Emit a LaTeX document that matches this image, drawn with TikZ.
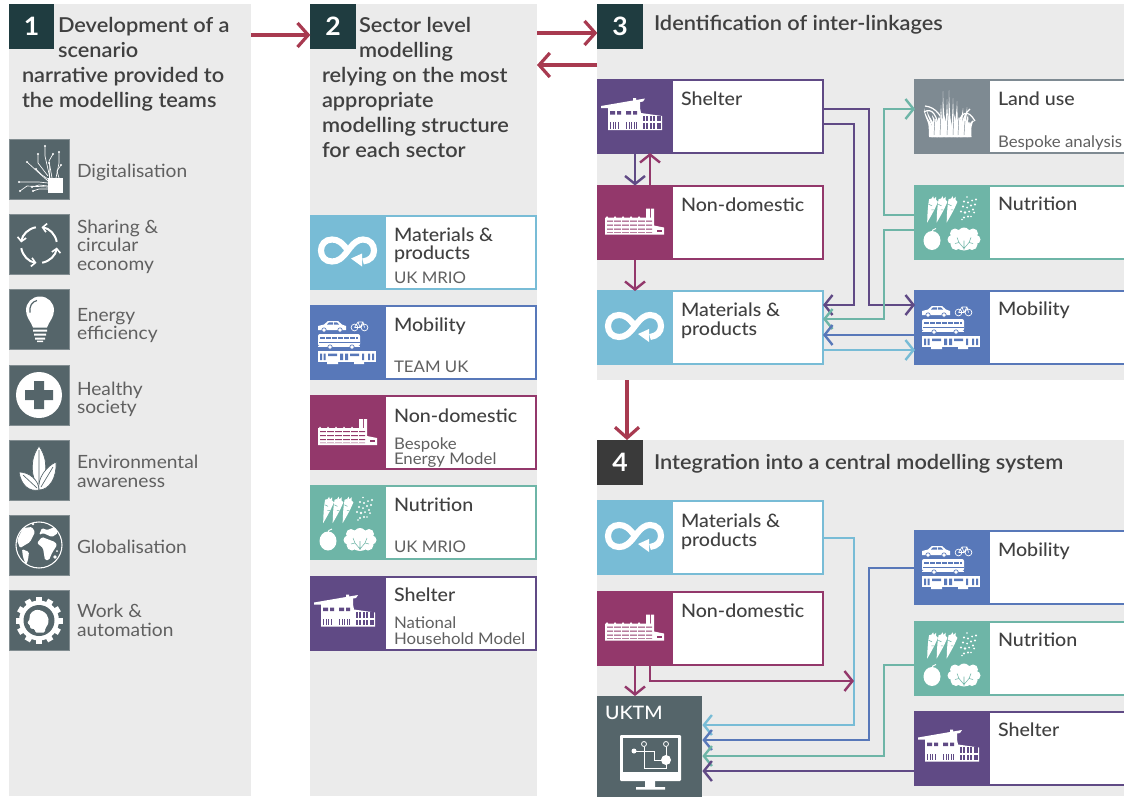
\documentclass[tikz,border=0pt]{standalone}
\usepackage{fontspec}
\setmainfont[FakeStretch=1.05]{Lato}
\newfontfamily\medf[FakeStretch=1.06]{Lato Medium}
\newfontfamily\semf[FakeStretch=1.06]{Lato Semibold}
\usetikzlibrary{arrows.meta}
\definecolor{panel}{HTML}{EBEBEB}
\definecolor{purp}{HTML}{604A85}
\definecolor{mag}{HTML}{93386B}
\definecolor{lblue}{HTML}{78BCD6}
\definecolor{mblue}{HTML}{5878B9}
\definecolor{teal2}{HTML}{6EB5A7}
\definecolor{lgray}{HTML}{7E8A92}
\definecolor{slate}{HTML}{55656A}
\definecolor{deep}{HTML}{1F3C40}
\definecolor{four}{HTML}{3A3A3A}
\definecolor{redc}{HTML}{A83A50}
\definecolor{txt}{HTML}{404040}
\definecolor{txtl}{HTML}{606060}
\tikzset{
  every node/.style={inner sep=0pt,outer sep=0pt},
  lab/.style={anchor=base west},
  hd/.style={lab,text=txt,font=\semf\fontsize{15.4}{16}\selectfont},
  cardt/.style={lab,text=txt,font=\medf\fontsize{13.9}{14}\selectfont},
  cardsub/.style={lab,text=txtl,font=\fontsize{12}{13}\selectfont},
  itemt/.style={lab,text=txtl,font=\fontsize{13.7}{14}\selectfont},
  num/.style={text=white,font=\bfseries\fontsize{19}{20}\selectfont},
  conn/.style={line width=1.8pt,-{Straight Barb[length=6pt,width=15pt,line width=1.8pt]}},
  bigarrow/.style={redc,line width=2.4pt,-{Straight Barb[length=8pt,width=18pt,line width=2.4pt]}},
  thin1/.style={white,line width=.6pt}
}
\newcount\lblc
\newcommand\lbl[4]{\global\advance\lblc by 1 \node[#1,name=t\the\lblc] at (#2,#3) {#4};}
\newcommand\icShelter{%
  \fill[white] (4,27)--(36,21.5)--(36,19)--(39,19)--(39,21)--(48,19.5)--(46,22.5)--(43,23)--(43,29)--(44,34)--(65,37)--(65,51)--(11,51)--(11,29)--(4,29) -- cycle;
  \fill[ic] (13,32) rectangle (18,35.5) (20,32) rectangle (24,35.5) (29,32) rectangle (34,35.5) (36,32) rectangle (40,35.5);
  \foreach \x in {13,15.5,18,20.5,29,31.5,34,36.5,39} \fill[ic] (\x,43) rectangle +(1.4,6.5);
  \foreach \x in {45.5,49,52.5,56,59.5,62} {\fill[ic] (\x,36.5) rectangle +(2.2,5.5); \fill[ic] (\x,44) rectangle +(2.2,5.5);}
}
\newcommand\icFactory{%
  \fill[white] (8,33)--(9,33)--(10,31.5)--(11,33)--(17,33)--(18,31.5)--(19,33)--(25,33)--(26,31.5)--(27,33)--(33,33)--(34,31.5)--(35,33)--(41,33)--(42,31.5)--(43,33)--(49,33)--(49,24)--(53,24)--(53,33)--(54,33)--(54,24)--(57,24)--(57,41)--(67,43)--(67,50)--(8,50)--cycle;
  \fill[ic] (10,36) rectangle (55,37) (10,40) rectangle (55,41) (10,44) rectangle (55,45) (10,47.5) rectangle (55,48);
  \fill[ic] (60,45) rectangle (65,47);
  \foreach \x in {16,24,32,40,48} \fill[white] (\x,35) rectangle +(.8,13);
}
\newcommand\icInf{%
  \draw[white,line width=4.6pt] (38,36) .. controls (32,28) and (28,25) .. (22,25) .. controls (15,25) and (11,30) .. (11,36) .. controls (11,42) and (15,47) .. (22,47) .. controls (28,47) and (32,44) .. (38,36) .. controls (44,28) and (48,25) .. (53,25) .. controls (60,25) and (64,30) .. (64,36) .. controls (64,42) and (60,46) .. (53,47);
  \fill[white] (41,44)--(52,39)--(52,52)--cycle;
  \fill[ic] (41,47) -- (43,52) -- (43,54) -- (41,54) -- cycle;
}
\newcommand\icMob{%
  \fill[white] (8,25)--(8,21)--(14,19.5)--(18,16)--(28,16)--(32,19.5)--(36,21)--(36,25)--cycle;
  \fill[ic] (19,17.3)--(23,17.3)--(23,19.5)--(17,19.5)--cycle (24,17.3)--(27,17.3)--(29,19.5)--(24,19.5)--cycle;
  \fill[white,draw=ic,line width=.5pt] (14,25) circle (2.2) (30,25) circle (2.2);
  \draw[thin1,line width=.5pt] (44.5,22.5) circle (3.4) (54.5,22.5) circle (3.4) (44.5,22.5)--(48,17)--(53,17)--(54.5,22.5) (48,17)--(50,22.5)--(53,17) (44.5,22.5)--(50,22.5);
  \fill[white,rounded corners=1.5pt] (8,29) rectangle (50,41);
  \fill[white] (8,41) rectangle (50,42);
  \fill[ic] (10,31.5) rectangle (48,33.5);
  \foreach \x in {15,21,27,33,39,45} \fill[white] (\x,31) rectangle +(.6,3);
  \fill[ic] (9,37) rectangle (50,37.4);
  \fill[white,draw=ic,line width=.5pt] (20,42) circle (2.2) (42,42) circle (2.2);
  \fill[white] (8,46) rectangle (66,57);
  \fill[ic] (10,48.5) rectangle (12,55) (13.5,48.5) rectangle (15.5,55) (18,48.5) rectangle (27,51) (30,48.5) rectangle (33,55) (35,48.5) rectangle (38,55) (40,48.5) rectangle (49,51) (52,48.5) rectangle (54,55) (58,48.5) rectangle (60,55) (62,48.5) rectangle (64,55);
  \fill[white] (17,57) rectangle (28,59) (44,57) rectangle (54,59);
}
\newcommand\icNut{%
  \foreach \cx in {19.5,29,39} {
    \begin{scope}[shift={(\cx,16)},rotate=-16]
      \fill[white] (-4.6,0) .. controls (-3,-2) and (3,-2) .. (4.6,0) .. controls (3.5,10) and (1.2,18) .. (0,23) .. controls (-1.2,18) and (-3.5,10) .. (-4.6,0) -- cycle;
      \fill[white] (-2.5,-1) -- (-1.5,-4) -- (0,-1.5) -- (1.5,-4.5) -- (2.5,-1) -- cycle;
      \draw[ic,line width=.4pt] (-3.5,5)--(0,5.5) (3,9)--(.5,9.5);
    \end{scope}
  }
  \foreach \px/\py/\pr in {53/12.5/.8,50/17/1.1,54/18/1.2,58/16/1,62/15/1.1,49/22/1.2,53/23/1,57/21/1.2,61/20/1.1,47/27/1.2,51/28/1.3,55/27/1,59/25/1.2,60/28/1,50/33/1.2,54/32/1.1,48/35/.9,57/32/.9}
    \fill[white] (\px,\py) circle (\pr);
  \fill[white] (18,56) ellipse (8.5 and 9.5);
  \draw[white,line width=.7pt] (18,48)..controls (18,46) and (19,44.5)..(22,44);
  \fill[white] (38,55) circle (4.5) (41,49) circle (5) (50,49) circle (6) (59,49) circle (5) (62,55) circle (4.5) (42,60) circle (5.5) (50,61) circle (5) (58,60) circle (5.5) (50,55) circle (11);
  \draw[ic,line width=.4pt] (50,65)--(50,56) (50,64)--(45,58)--(43,53) (50,64)--(55,58)--(57,53) (45,58)--(41,59) (55,58)--(59,59);
}
\newcommand\icLand{%
  \foreach \bx/\tx/\ty/\w in {17/14/44/2,19/10/29/1.5,22/13/31/1.8,25/18/36/2.2,27/27/26/2,30/29/12/1.5,33/33/20/1.8,36/35/11/1.4,39/39/19/1.7,42/43/22/2,45/49/29/1.8,48/53/28/1.8,52/54/36/1.8,55/60/43/1.5,20/21/40/3.5,25/25/38/3.5,30/30/36/3.5,35/35/34/3.5,40/40/35/3.5,45/45/38/3.5,50/50/40/3.5,55/55/46/2.5}
    \fill[white] (\bx-\w,58) .. controls (\bx-\w,46) and (\tx-.7,38) .. (\tx,\ty) .. controls (\tx+.7,38) and (\bx+\w,46) .. (\bx+\w,58) -- cycle;
  \draw[white,line width=.9pt] (10,33)..controls (18,28) and (24,36)..(25,55);
  \draw[white,line width=.9pt] (11,27)..controls (22,28) and (30,38)..(32,55);
  \draw[white,line width=.9pt] (61,42)..controls (54,30) and (46,30)..(42,55);
  \draw[white,line width=.9pt] (56,30)..controls (52,33) and (48,40)..(47,55);
  \foreach \x/\t in {20/38,26/34,33/36,39/30,44/36,50/42} \draw[ic,line width=.35pt] (\x,56)--(\x+1,\t);
}
\newcommand\icDigi{%
  \fill[white] (39,39) rectangle (54,54);
  \foreach \dx/\dy/\ex/\ey/\fx/\fy in {36/7/36/17/41/39,29/15/29/24/39/37,44/15/40/22/43/39,50/13/50/24/47/39,40/24/40/30/40/39,52/26/48/32/50/39,18/23/30/34/39/42,27/30/33/36/39/40,10/43/30/43/39/44,23/48/30/46/39/47,24/52/30/50/39/50,11/52/18/47/39/48} {
    \draw[thin1,line width=.5pt] (\dx,\dy)--(\ex,\ey)--(\fx,\fy);
    \fill[white] (\dx,\dy) circle (1.2);
  }
}
\newcommand\icCirc{%
  \foreach \a in {10,100,190,280}
    \draw[white,line width=1.5pt,-{Straight Barb[length=3pt,width=6.5pt,line width=1.2pt]}] (30,31) ++(\a:13.5pt) arc[start angle=\a,end angle=\a+72,radius=13.5pt];
}
\newcommand\icBulb{%
  \fill[white] (24,38) .. controls (22,32) and (17,28) .. (17,21) .. controls (17,13) and (23,7) .. (31,7) .. controls (39,7) and (45,13) .. (45,21) .. controls (45,28) and (40,32) .. (38,38) -- cycle;
  \fill[white] (24,40) rectangle (38,42) (25,44) rectangle (37,46) (26,48) rectangle (36,50) (28,51) rectangle (34,52.5);
  \draw[ic,line width=.9pt] (21,23) .. controls (20,17) and (23,12) .. (28,11);
}
\newcommand\icPlus{%
  \fill[white] (30,30) circle (23);
  \fill[ic] (25,16) rectangle (35,44) (16,25) rectangle (44,35);
}
\newcommand\icLeaf{%
  \fill[white,draw=ic,line width=.5pt] (30,6) .. controls (40,20) and (38,38) .. (30,48) .. controls (22,38) and (20,20) .. (30,6);
  \fill[white,draw=ic,line width=.5pt] (10,32) .. controls (12,45) and (20,52) .. (30,50) .. controls (30,40) and (20,32) .. (10,32);
  \fill[white,draw=ic,line width=.5pt] (47,22) .. controls (48,38) and (40,50) .. (30,50) .. controls (28,38) and (38,26) .. (47,22);
  \draw[ic,line width=.5pt] (30,10)--(30,44) (14,35)--(28,48) (44,27)--(32,47);
}
\newcommand\icGlobe{%
  \begin{scope}
  \clip (30,30) circle (23);
  \fill[white,rounded corners=1pt] (28,28)--(33,22)--(46,27)--(48,30)--(43,38)--(40,45)--(36,45)--(34,33)--cycle;
  \fill[white,rounded corners=1pt] (30,20)--(33,13)--(38,15)--(46,12)--(49,18)--(43,22)--(34,18)--cycle;
  \fill[white,rounded corners=1pt] (8,25)--(14,13)--(23,12)--(26,17)--(21,27)--(16,30)--(11,33)--cycle;
  \fill[white,rounded corners=1pt] (13,34)--(20,37)--(19,45)--(17,50)--(14,42)--cycle;
  \fill[white] (46,42) circle (1.8) (24,9) circle (1.3) (48,36) circle (1);
  \end{scope}
  \draw[white,line width=.8pt] (30,30) circle (23);
}
\newcommand\icGear{%
  \foreach \a in {0,30,...,330}
    \fill[white,shift={(30,30)},rotate=\a] (-3,-23.5) rectangle (3,-15);
  \fill[white] (30,30) circle (20);
  \fill[ic] (30,30) circle (15.5);
  \fill[white,rounded corners=1pt] (36,42)--(36,38) .. controls (41,33) and (41,24) .. (32,20) .. controls (24,18) and (20,24) .. (21,28)--(18,33)--(21,34)--(21,38)--(26,38.5)--(26,42)--cycle;
}
\newcommand\card[6]{%
  \colorlet{ic}{#5}%
  \node[draw=#5,line width=1.5pt,fill=white,anchor=north west,minimum width=#4*0.75pt,minimum height=54.75pt] (#1) at (#2,#3+1) {};
  \fill[#5] (#2-1,#3) rectangle ++(76,75);
  \begin{scope}[shift={(#2-1,#3)}] #6 \end{scope}
}
\newcommand\sideicon[3]{%
  \colorlet{ic}{slate}%
  \node[fill=slate,draw=slate!70!panel,line width=.5pt,anchor=north west,minimum size=45pt] (#1) at (9,#2) {};
  \begin{scope}[shift={(9,#2)}] #3 \end{scope}
}
\begin{document}
\begin{tikzpicture}[x=0.75pt,y=-0.75pt]
\clip (0,0) rectangle (1124,796);
\fill[white] (0,0) rectangle (1124,796);
\fill[panel] (9,4) rectangle (251,796);
\fill[panel] (310,4) rectangle (537,796);
\fill[panel] (597,4) rectangle (1124,380);
\fill[panel] (597,440) rectangle (1124,796);
\node[num,fill=deep,minimum size=34pt] (n1) at (31.7,26.7) {1};
\node[num,fill=deep,minimum size=34pt] (n2) at (333,26.7) {2};
\node[num,fill=deep,minimum size=34pt] (n3) at (620,26.7) {3};
\node[num,fill=four,minimum size=34pt] (n4) at (620,462.7) {4};
\lbl{hd}{58}{32}{Development of a}
\lbl{hd}{58}{57}{scenario}
\lbl{hd}{22}{82}{narrative provided to}
\lbl{hd}{22}{107}{the modelling teams}
\lbl{hd}{359}{32}{Sector level}
\lbl{hd}{359}{57}{modelling}
\lbl{hd}{322}{82}{relying on the most}
\lbl{hd}{322}{107}{appropriate}
\lbl{hd}{322}{132}{modelling structure}
\lbl{hd}{322}{157}{for each sector}
\lbl{hd}{654}{31}{Identification of inter-linkages}
\lbl{hd}{654}{469}{Integration into a central modelling system}
\sideicon{s1}{139}{\icDigi}
\sideicon{s2}{214}{\icCirc}
\sideicon{s3}{289.5}{\icBulb}
\sideicon{s4}{365}{\icPlus}
\sideicon{s5}{440}{\icLeaf}
\sideicon{s6}{515}{\icGlobe}
\sideicon{s7}{590.5}{\icGear}
\lbl{itemt}{77}{177}{Digitalisation}
\lbl{itemt}{77}{233}{Sharing \&}
\lbl{itemt}{77}{251.5}{circular}
\lbl{itemt}{77}{270}{economy}
\lbl{itemt}{77}{321}{Energy}
\lbl{itemt}{77}{339}{efficiency}
\lbl{itemt}{77}{395}{Healthy}
\lbl{itemt}{77}{413}{society}
\lbl{itemt}{77}{468}{Environmental}
\lbl{itemt}{77}{487}{awareness}
\lbl{itemt}{77}{553}{Globalisation}
\lbl{itemt}{77}{617}{Work \&}
\lbl{itemt}{77}{636}{automation}
\card{a1}{311}{214.5}{225}{lblue}{\icInf}
\card{a2}{311}{305}{225}{mblue}{\icMob}
\card{a3}{311}{395}{225}{mag}{\icFactory}
\card{a4}{311}{485}{225}{teal2}{\icNut}
\card{a5}{311}{575.5}{225}{purp}{\icShelter}
\lbl{cardt}{394}{241}{Materials \&}
\lbl{cardt}{394}{259}{products}
\lbl{cardsub}{394}{283}{UK MRIO}
\lbl{cardt}{394}{331}{Mobility}
\lbl{cardsub}{394}{372}{TEAM UK}
\lbl{cardt}{394}{422}{Non-domestic}
\lbl{cardsub}{394}{449}{Bespoke}
\lbl{cardsub}{394}{464}{Energy Model}
\lbl{cardt}{394}{511}{Nutrition}
\lbl{cardsub}{394}{552}{UK MRIO}
\lbl{cardt}{394}{601}{Shelter}
\lbl{cardsub}{394}{628}{National}
\lbl{cardsub}{394}{644}{Household Model}
\card{b1}{598}{79}{225}{purp}{\icShelter}
\card{b2}{598}{184.5}{225}{mag}{\icFactory}
\card{b3}{598}{290}{225}{lblue}{\icInf}
\card{b4}{915}{79}{215}{lgray}{\icLand}
\card{b5}{915}{184.5}{215}{teal2}{\icNut}
\card{b6}{915}{290}{215}{mblue}{\icMob}
\lbl{cardt}{681}{105}{Shelter}
\lbl{cardt}{681}{211}{Non-domestic}
\lbl{cardt}{681}{316}{Materials \&}
\lbl{cardt}{681}{335}{products}
\lbl{cardt}{998}{105}{Land use}
\lbl{cardsub}{998}{147}{Bespoke analysis}
\lbl{cardt}{998}{210}{Nutrition}
\lbl{cardt}{998}{315}{Mobility}
\card{c1}{598}{500}{225}{lblue}{\icInf}
\card{c2}{598}{590.5}{225}{mag}{\icFactory}
\card{c3}{915}{530}{215}{mblue}{\icMob}
\card{c4}{915}{620.5}{215}{teal2}{\icNut}
\card{c5}{915}{710.5}{215}{purp}{\icShelter}
\lbl{cardt}{681}{527}{Materials \&}
\lbl{cardt}{681}{546}{products}
\lbl{cardt}{681}{617}{Non-domestic}
\lbl{cardt}{998}{556}{Mobility}
\lbl{cardt}{998}{646}{Nutrition}
\lbl{cardt}{998}{736}{Shelter}
\node[fill=slate,anchor=north west,minimum width=79pt,minimum height=76pt] (uk) at (597,696) {};
\lbl{lab,text=white,font=\medf\fontsize{13.9}{14}\selectfont}{605}{719}{UKTM}
\fill[white,rounded corners=.8pt] (620,735) rectangle (681,781);
\fill[slate] (623,738) rectangle (678,772);
\fill[white] (645,781) rectangle (655,787) (636,787) rectangle (665,789.5);
\draw[white,line width=.6pt] (634,751)--(654,751)--(654,760)--(666,760)--(666,746.5);
\draw[white,line width=.6pt] (644,746.5)--(644,768)--(666,768)--(666,760);
\draw[white,line width=.6pt] (644,744) circle (2.5) (666,744) circle (2.5);
\fill[white] (634,751) circle (2.5) (666,760) circle (5);
\coordinate (r1) at (251,35);
\coordinate (r2) at (537,33);
\coordinate (r3) at (537,65);
\coordinate (r4) at (627,380);
\draw[bigarrow] (r1) -- (n2.west |- r1);
\draw[bigarrow] (r2) -- (n3.west |- r2);
\draw[bigarrow] (n3.west |- r3) -- (r3);
\draw[bigarrow] (r4) -- (n4.north -| r4);
\draw[conn,purp] (b1.south -| 635,0) -- (b2.north -| 635,0);
\draw[conn,mag] (b2.north -| 650,0) -- (b1.south -| 650,0);
\draw[conn,mag] (b2.south -| 635,0) -- (b3.north -| 635,0);
\draw[conn,purp] (b1.east |- 0,109) -- (869,109) -- (869,305) -- (b6.west |- 0,305);
\draw[conn,purp] (b1.east |- 0,124) -- (854,124) -- (854,305) -- (b3.east |- 0,305);
\draw[conn,teal2] (b5.west |- 0,215) -- (884,215) -- (884,109) -- (b4.west |- 0,109);
\draw[conn,teal2] (b5.west |- 0,230) -- (884,230) -- (884,319) -- (b3.east |- 0,319);
\draw[conn,mblue] (b6.west |- 0,335) -- (b3.east |- 0,335);
\draw[conn,lblue] (b3.east |- 0,350) -- (b6.west |- 0,350);
\draw[conn,lblue] (c1.east |- 0,538) -- (854,538) -- (854,725) -- (uk.east |- 0,725);
\draw[conn,mag] (c2.south -| 650,0) -- (650,681) -- (854,681);
\draw[conn,mag] (c2.south -| 635,0) -- (uk.north -| 635,0);
\draw[conn,mblue] (c3.west |- 0,568) -- (869,568) -- (869,740) -- (uk.east |- 0,740);
\draw[conn,teal2] (c4.west |- 0,665) -- (884,665) -- (884,756) -- (uk.east |- 0,756);
\draw[conn,purp] (c5.west |- 0,771) -- (uk.east |- 0,771);
\end{tikzpicture}
\end{document}
